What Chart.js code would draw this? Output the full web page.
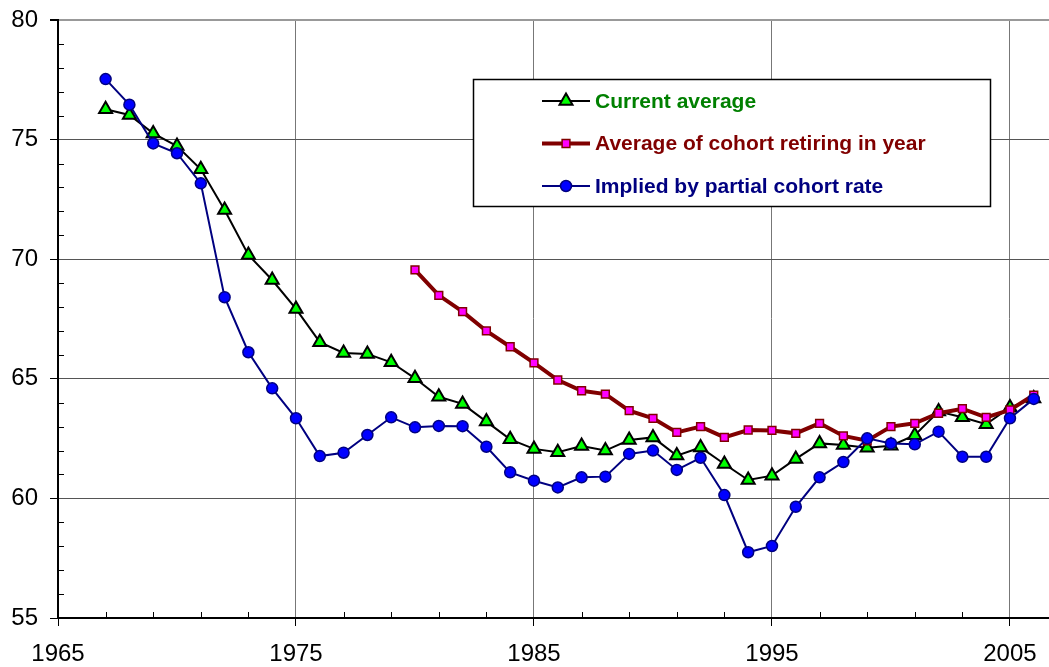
<!DOCTYPE html>
<html>
<head>
<meta charset="utf-8">
<script src="https://cdn.jsdelivr.net/npm/chart.js@4.4.1/dist/chart.umd.min.js"></script>
<style>
  body { margin: 0; background: #ffffff; overflow: hidden; }
  #wrap { width: 1049px; height: 667px; position: relative; }
</style>
</head>
<body>
<div id="wrap"><canvas id="chart"></canvas></div>
<script>
// Years on the x axis
const years = [1967, 1968, 1969, 1970, 1971, 1972, 1973, 1974, 1975, 1976,
               1977, 1978, 1979, 1980, 1981, 1982, 1983, 1984, 1985, 1986,
               1987, 1988, 1989, 1990, 1991, 1992, 1993, 1994, 1995, 1996,
               1997, 1998, 1999, 2000, 2001, 2002, 2003, 2004, 2005, 2006];

const seriesNames = ['Current average', 'Average of cohort retiring in year', 'Implied by partial cohort rate'];

// Current average (green triangles)
const currentAverage = [76.27, 76.03, 75.26, 74.73, 73.76, 72.06, 70.18, 69.13, 67.92, 66.53,
                        66.08, 66.04, 65.69, 65.02, 64.25, 63.95, 63.21, 62.47, 62.07, 61.93,
                        62.19, 62.00, 62.44, 62.55, 61.79, 62.13, 61.44, 60.77, 60.95, 61.65,
                        62.30, 62.23, 62.12, 62.20, 62.64, 63.63, 63.39, 63.10, 63.80, 64.18];

// Average of cohort retiring in year (starts 1980)
const cohortAverage = [null, null, null, null, null, null, null, null, null, null,
                       null, null, null, 69.55, 68.49, 67.81, 67.00, 66.34, 65.67, 64.95,
                       64.50, 64.36, 63.67, 63.35, 62.76, 63.00, 62.55, 62.86, 62.84, 62.72,
                       63.14, 62.61, 62.41, 63.00, 63.14, 63.56, 63.75, 63.39, 63.70, 64.32];

// Implied by partial cohort rate (blue circles)
const impliedRate = [77.53, 76.46, 74.84, 74.43, 73.17, 68.41, 66.11, 64.60, 63.35, 61.77,
                     61.91, 62.65, 63.39, 62.97, 63.03, 63.02, 62.16, 61.09, 60.74, 60.46,
                     60.88, 60.91, 61.86, 62.00, 61.19, 61.70, 60.14, 57.75, 58.01, 59.65,
                     60.88, 61.52, 62.51, 62.30, 62.26, 62.79, 61.74, 61.74, 63.35, 64.16];

const xMajorTicks = [1965, 1975, 1985, 1995, 2005];
const yMajorTicks = [55, 60, 65, 70, 75, 80];

const legendTextColors = ['#008000', '#800000', '#000080'];

function toPoints(values) {
    return years.map((yr, i) => ({ x: yr, y: values[i] }));
}

// minor tick marks drawn inside the plot, like the old spreadsheet chart
const minorTicks = {
    id: 'minorTicks',
    beforeDatasetsDraw(chart) {
        const ctx = chart.ctx;
        const xs = chart.scales.x;
        const ys = chart.scales.y;
        const area = chart.chartArea;
        ctx.save();
        ctx.strokeStyle = '#000';
        ctx.lineWidth = 1;
        ctx.beginPath();
        for (let v = 1967; v < 2007; v += 2) {
            if ((v - 1965) % 10 === 0) continue;
            const px = Math.round(xs.getPixelForValue(v)) + 0.5;
            ctx.moveTo(px, area.bottom);
            ctx.lineTo(px, area.bottom - 6);
        }
        for (let v = 56; v < 80; v++) {
            if (v % 5 === 0) continue;
            const py = Math.round(ys.getPixelForValue(v)) + 0.5;
            ctx.moveTo(area.left, py);
            ctx.lineTo(area.left + 6, py);
        }
        ctx.stroke();
        ctx.restore();
    }
};

// boxed legend inside the plot
const legendBox = {
    id: 'legendBox',
    afterDraw(chart) {
        const ctx = chart.ctx;
        ctx.save();
        ctx.fillStyle = '#ffffff';
        ctx.fillRect(473, 79, 518, 128);
        ctx.strokeStyle = '#000000';
        ctx.lineWidth = 1.5;
        ctx.strokeRect(473.5, 79.5, 517, 127);
        chart.data.datasets.forEach((ds, i) => {
            const y = 101 + i * 42.5;
            ctx.beginPath();
            ctx.moveTo(542, y);
            ctx.lineTo(590, y);
            ctx.strokeStyle = ds.borderColor;
            ctx.lineWidth = ds.borderWidth;
            ctx.stroke();
            ctx.fillStyle = ds.pointBackgroundColor;
            ctx.strokeStyle = ds.pointBorderColor;
            ctx.lineWidth = ds.pointBorderWidth;
            Chart.helpers.drawPoint(ctx, {
                pointStyle: ds.pointStyle,
                radius: ds.pointRadius,
                rotation: 0,
                borderWidth: ds.pointBorderWidth
            }, 566, y);
            ctx.fillStyle = legendTextColors[i];
            ctx.font = 'bold 21px "Liberation Sans", Arial, sans-serif';
            ctx.textBaseline = 'middle';
            ctx.textAlign = 'left';
            ctx.fillText(ds.label, 595, y + 1);
        });
        ctx.restore();
    }
};

const ctx = document.getElementById('chart').getContext('2d');

new Chart(ctx, {
    type: 'line',
    data: {
        datasets: [
            {
                label: seriesNames[0],
                data: toPoints(currentAverage),
                borderColor: '#000000',
                borderWidth: 2,
                pointStyle: 'triangle',
                pointRadius: 7.5,
                pointBackgroundColor: '#00ff00',
                pointBorderColor: '#000000',
                pointBorderWidth: 2,
                tension: 0,
                order: 3
            },
            {
                label: seriesNames[1],
                data: toPoints(cohortAverage),
                borderColor: '#800000',
                borderWidth: 4,
                pointStyle: 'rect',
                pointRadius: 5.5,
                pointBackgroundColor: '#ff00ff',
                pointBorderColor: '#800000',
                pointBorderWidth: 1.5,
                tension: 0,
                order: 2
            },
            {
                label: seriesNames[2],
                data: toPoints(impliedRate),
                borderColor: '#000080',
                borderWidth: 2,
                pointStyle: 'circle',
                pointRadius: 5.5,
                pointBackgroundColor: '#0000ff',
                pointBorderColor: '#000080',
                pointBorderWidth: 1.5,
                tension: 0,
                order: 1
            }
        ]
    },
    options: {
        responsive: true,
        maintainAspectRatio: false,
        animation: false,
        layout: {
            autoPadding: false,
            padding: { top: 20, right: 0, left: 0, bottom: 0 }
        },
        plugins: {
            legend: { display: false },
            tooltip: { enabled: false }
        },
        scales: {
            x: {
                type: 'linear',
                min: 1965,
                max: 2006.64,
                afterBuildTicks: scale => { scale.ticks = xMajorTicks.map(v => ({ value: v })); },
                afterFit: scale => {
                    scale.height = 49;
                    scale.paddingLeft = 0;
                    scale.paddingRight = 0;
                },
                ticks: {
                    color: '#000',
                    padding: 14,
                    maxRotation: 0,
                    font: { family: '"Liberation Sans", Arial, sans-serif', size: 24 },
                    callback: v => String(v)
                },
                grid: {
                    color: c => (c.tick && c.tick.value === 1965) ? 'rgba(0,0,0,0)' : '#777777',
                    lineWidth: 1,
                    tickColor: '#000',
                    tickLength: 8
                },
                border: { color: '#000', width: 2 }
            },
            y: {
                min: 55,
                max: 80,
                afterBuildTicks: scale => { scale.ticks = yMajorTicks.map(v => ({ value: v })); },
                afterFit: scale => {
                    scale.width = 58;
                    scale.paddingTop = 0;
                    scale.paddingBottom = 0;
                },
                ticks: {
                    color: '#000',
                    padding: 12,
                    font: { family: '"Liberation Sans", Arial, sans-serif', size: 24 }
                },
                grid: {
                    color: c => {
                        if (!c.tick) return '#555';
                        if (c.tick.value === 55) return 'rgba(0,0,0,0)';
                        if (c.tick.value === 80) return '#999999';
                        return '#555555';
                    },
                    lineWidth: c => (c.tick && c.tick.value === 80) ? 2 : 1,
                    tickColor: '#000',
                    tickLength: 8
                },
                border: { color: '#000', width: 2 }
            }
        }
    },
    plugins: [minorTicks, legendBox]
});
</script>
</body>
</html>
